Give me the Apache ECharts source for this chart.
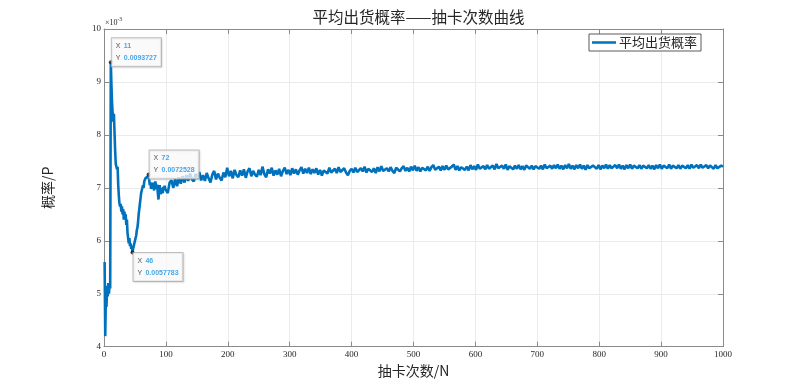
<!DOCTYPE html>
<html>
<head>
<meta charset="utf-8">
<script src="https://cdn.jsdelivr.net/npm/echarts@6/dist/echarts.min.js"></script>
<style>html,body{margin:0;padding:0;background:#fff;}#c{width:799px;height:390px;}</style>
</head>
<body>
<div id="c"></div>
<script>
// Average probability (x10^-3) for draws 1..99
const earlyVals = [
5.60,4.20,4.95,4.75,5.15,4.95,5.20,5.00,5.15,5.10,
9.37,8.95,8.60,8.40,8.25,8.40,8.05,7.70,7.45,7.40,
7.35,7.40,7.05,6.85,6.70,6.65,6.70,6.55,6.65,6.50,
6.60,6.40,6.55,6.45,6.50,6.30,6.40,6.15,6.05,5.95,
6.05,5.90,5.95,5.85,5.90,5.78,5.85,5.90,5.95,5.92,
6.05,6.10,6.20,6.25,6.35,6.50,6.60,6.70,6.80,6.90,
6.95,6.98,7.05,7.00,7.12,7.10,7.18,7.15,7.20,7.18,
7.22,7.25,7.15,7.05,7.10,6.98,7.02,7.10,7.00,7.05,
6.95,7.08,7.12,7.02,6.98,7.06,6.90,6.78,6.95,7.05,
6.92,6.88,7.00,6.95,6.90,7.02,6.96,7.04,6.98
];
// Average probability (x10^-3) for draws 100..1000, every 3rd draw
const lateStart = 100, lateStep = 3;
const lateVals = [
7.00,6.90,7.10,7.14,7.00,7.17,7.03,7.20,7.08,7.22,
7.10,7.24,7.13,7.27,7.16,7.12,7.26,7.17,7.30,7.14,
7.24,7.13,7.28,7.18,7.10,7.25,7.32,7.16,7.27,7.19,
7.14,7.29,7.20,7.38,7.22,7.32,7.18,7.34,7.24,7.20,
7.33,7.23,7.35,7.19,7.31,7.37,7.22,7.32,7.25,7.21,
7.34,7.24,7.40,7.26,7.20,7.35,7.27,7.38,7.23,7.33,
7.25,7.36,7.22,7.32,7.38,7.26,7.34,7.24,7.37,7.27,
7.35,7.25,7.33,7.39,7.27,7.36,7.28,7.38,7.26,7.35,
7.28,7.37,7.25,7.34,7.23,7.33,7.36,7.27,7.38,7.29,
7.26,7.36,7.28,7.39,7.30,7.27,7.37,7.29,7.24,7.32,
7.36,7.29,7.38,7.30,7.27,7.37,7.31,7.40,7.29,7.36,
7.38,7.30,7.37,7.28,7.39,7.31,7.41,7.32,7.29,7.37,
7.31,7.39,7.32,7.28,7.38,7.40,7.31,7.37,7.41,7.32,
7.38,7.31,7.40,7.33,7.42,7.32,7.39,7.31,7.38,7.41,
7.33,7.40,7.32,7.39,7.43,7.34,7.31,7.40,7.33,7.41,
7.34,7.42,7.35,7.32,7.40,7.44,7.34,7.41,7.33,7.39,
7.42,7.34,7.40,7.33,7.43,7.35,7.41,7.34,7.44,7.36,
7.34,7.41,7.35,7.43,7.36,7.33,7.42,7.35,7.45,7.37,
7.35,7.42,7.36,7.44,7.34,7.41,7.43,7.35,7.42,7.36,
7.43,7.35,7.41,7.34,7.42,7.44,7.36,7.42,7.35,7.41,
7.43,7.36,7.42,7.35,7.44,7.37,7.34,7.42,7.36,7.43,
7.37,7.44,7.36,7.42,7.35,7.43,7.37,7.45,7.36,7.42,
7.35,7.43,7.37,7.44,7.36,7.42,7.34,7.43,7.37,7.36,
7.42,7.44,7.36,7.43,7.35,7.42,7.37,7.44,7.36,7.43,
7.37,7.35,7.43,7.37,7.44,7.36,7.42,7.35,7.43,7.37,
7.44,7.36,7.42,7.45,7.37,7.43,7.36,7.42,7.44,7.37,
7.43,7.36,7.42,7.35,7.43,7.37,7.44,7.36,7.42,7.43,
7.37,7.44,7.36,7.42,7.45,7.37,7.43,7.36,7.42,7.44,
7.37,7.43,7.36,7.44,7.38,7.35,7.43,7.37,7.44,7.38,
7.36,7.43,7.37,7.42,7.44,7.36,7.43,7.37,7.35,7.42,
7.40
];
// Data tips
const tipX = [11, 46, 72];
const tipY = [0.0093727, 0.0057783, 0.0072528];
const tipBelow = [false, true, false];

const titleText = '平均出货概率——抽卡次数曲线';
const seriesName = '平均出货概率';
const xName = '抽卡次数/N';
const yName = '概率/P';

const lineData = earlyVals.map((v, i) => [i + 1, v])
  .concat(lateVals.map((v, i) => [lateStart + i * lateStep, v]));

const tipData = tipX.map((x, i) => ({
  value: [x, tipY[i] * 1000],
  label: { position: tipBelow[i] ? [3, 2.5] : [3, -22] },
  raw: [x, tipY[i]]
}));

const serif = "'Liberation Serif','DejaVu Serif',serif";
const cjk = "'Noto Sans CJK SC','Noto Sans',sans-serif";
const axisColor = '#8a8a8a';

const chart = echarts.init(document.getElementById('c'), null, { renderer: 'canvas' });
chart.setOption({
  animation: false,
  backgroundColor: '#fff',
  title: {
    text: titleText,
    left: 413.5,
    textAlign: 'center',
    top: 4,
    textStyle: { fontFamily: cjk, fontSize: 15.5, fontWeight: 'normal', color: '#262626' }
  },
  legend: {
    data: [seriesName],
    right: 98,
    top: 34,
    orient: 'vertical',
    icon: 'rect',
    itemWidth: 24,
    itemHeight: 2.5,
    itemGap: 0,
    padding: [2, 4, 2, 3],
    borderColor: '#5a5a5a',
    borderWidth: 1,
    backgroundColor: '#fff',
    textStyle: { fontFamily: cjk, fontSize: 13, color: '#262626', padding: [0, 0, 0, -2] }
  },
  grid: { left: 104, right: 76, top: 29, bottom: 43.3, show: false },
  xAxis: [{
    type: 'value', min: 0, max: 1000, interval: 100,
    name: xName, nameLocation: 'middle', nameGap: 10,
    nameTextStyle: { fontFamily: cjk, fontSize: 14, color: '#262626' },
    axisLine: { show: true, onZero: false, lineStyle: { color: axisColor, width: 1 } },
    axisTick: { show: true, inside: true, length: 5, lineStyle: { color: axisColor } },
    axisLabel: { fontFamily: serif, fontSize: 9, color: '#262626', margin: 3, formatter: v => String(v) },
    splitLine: { show: true, lineStyle: { color: '#ebebeb', width: 1 } }
  }, {
    type: 'value', min: 0, max: 1000, interval: 100, position: 'top',
    axisLine: { show: true, onZero: false, lineStyle: { color: axisColor, width: 1 } },
    axisTick: { show: true, inside: true, length: 5, lineStyle: { color: axisColor } },
    axisLabel: { show: false }, splitLine: { show: false }
  }],
  yAxis: [{
    type: 'value', min: 4, max: 10, interval: 1,
    name: yName, nameLocation: 'middle', nameGap: 49, nameRotate: 90,
    nameTextStyle: { fontFamily: cjk, fontSize: 14, color: '#262626' },
    axisLine: { show: true, onZero: false, lineStyle: { color: axisColor, width: 1 } },
    axisTick: { show: true, inside: true, length: 5, lineStyle: { color: axisColor } },
    axisLabel: { fontFamily: serif, fontSize: 9, color: '#262626', margin: 3 },
    splitLine: { show: true, lineStyle: { color: '#ebebeb', width: 1 } }
  }, {
    type: 'value', min: 4, max: 10, interval: 1, position: 'right',
    axisLine: { show: true, onZero: false, lineStyle: { color: axisColor, width: 1 } },
    axisTick: { show: true, inside: true, length: 5, lineStyle: { color: axisColor } },
    axisLabel: { show: false }, splitLine: { show: false }
  }],
  graphic: [{
    type: 'text', left: 105, top: 17,
    style: {
      text: '{a|×10}{b|-3}',
      rich: {
        a: { fontFamily: serif, fontSize: 8, fill: '#262626' },
        b: { fontFamily: serif, fontSize: 5.5, fill: '#262626', verticalAlign: 'top', padding: [0, 0, 5, 0] }
      }
    }
  }],
  series: [{
    name: seriesName,
    type: 'line',
    data: lineData,
    showSymbol: false,
    symbol: 'none',
    lineStyle: { color: '#0072BD', width: 2.6 },
    itemStyle: { color: '#0072BD' },
    z: 3
  }, {
    name: 'tips',
    type: 'scatter',
    data: tipData,
    symbol: 'circle',
    symbolSize: 4,
    itemStyle: { color: '#111' },
    z: 5,
    label: {
      show: true,
      align: 'left',
      verticalAlign: 'top',
      backgroundColor: 'rgba(255,255,255,0.93)',
      borderColor: '#b0b0b0',
      borderWidth: 1,
      padding: [2, 4, 2, 4],
      shadowColor: 'rgba(0,0,0,0.1)',
      shadowBlur: 2,
      shadowOffsetX: 1,
      shadowOffsetY: 1,
      formatter: function (p) {
        const r = p.data.raw;
        return '{k|X} {v|' + r[0] + '}\n{k|Y} {v|' + r[1] + '}';
      },
      rich: {
        k: { fontFamily: "'Liberation Sans',Arial,sans-serif", fontSize: 7, color: '#262626', lineHeight: 10 },
        v: { fontFamily: "'Liberation Sans',Arial,sans-serif", fontSize: 7, color: '#1a8fe3', fontWeight: 'bold', lineHeight: 10 }
      }
    }
  }]
});
</script>
</body>
</html>
